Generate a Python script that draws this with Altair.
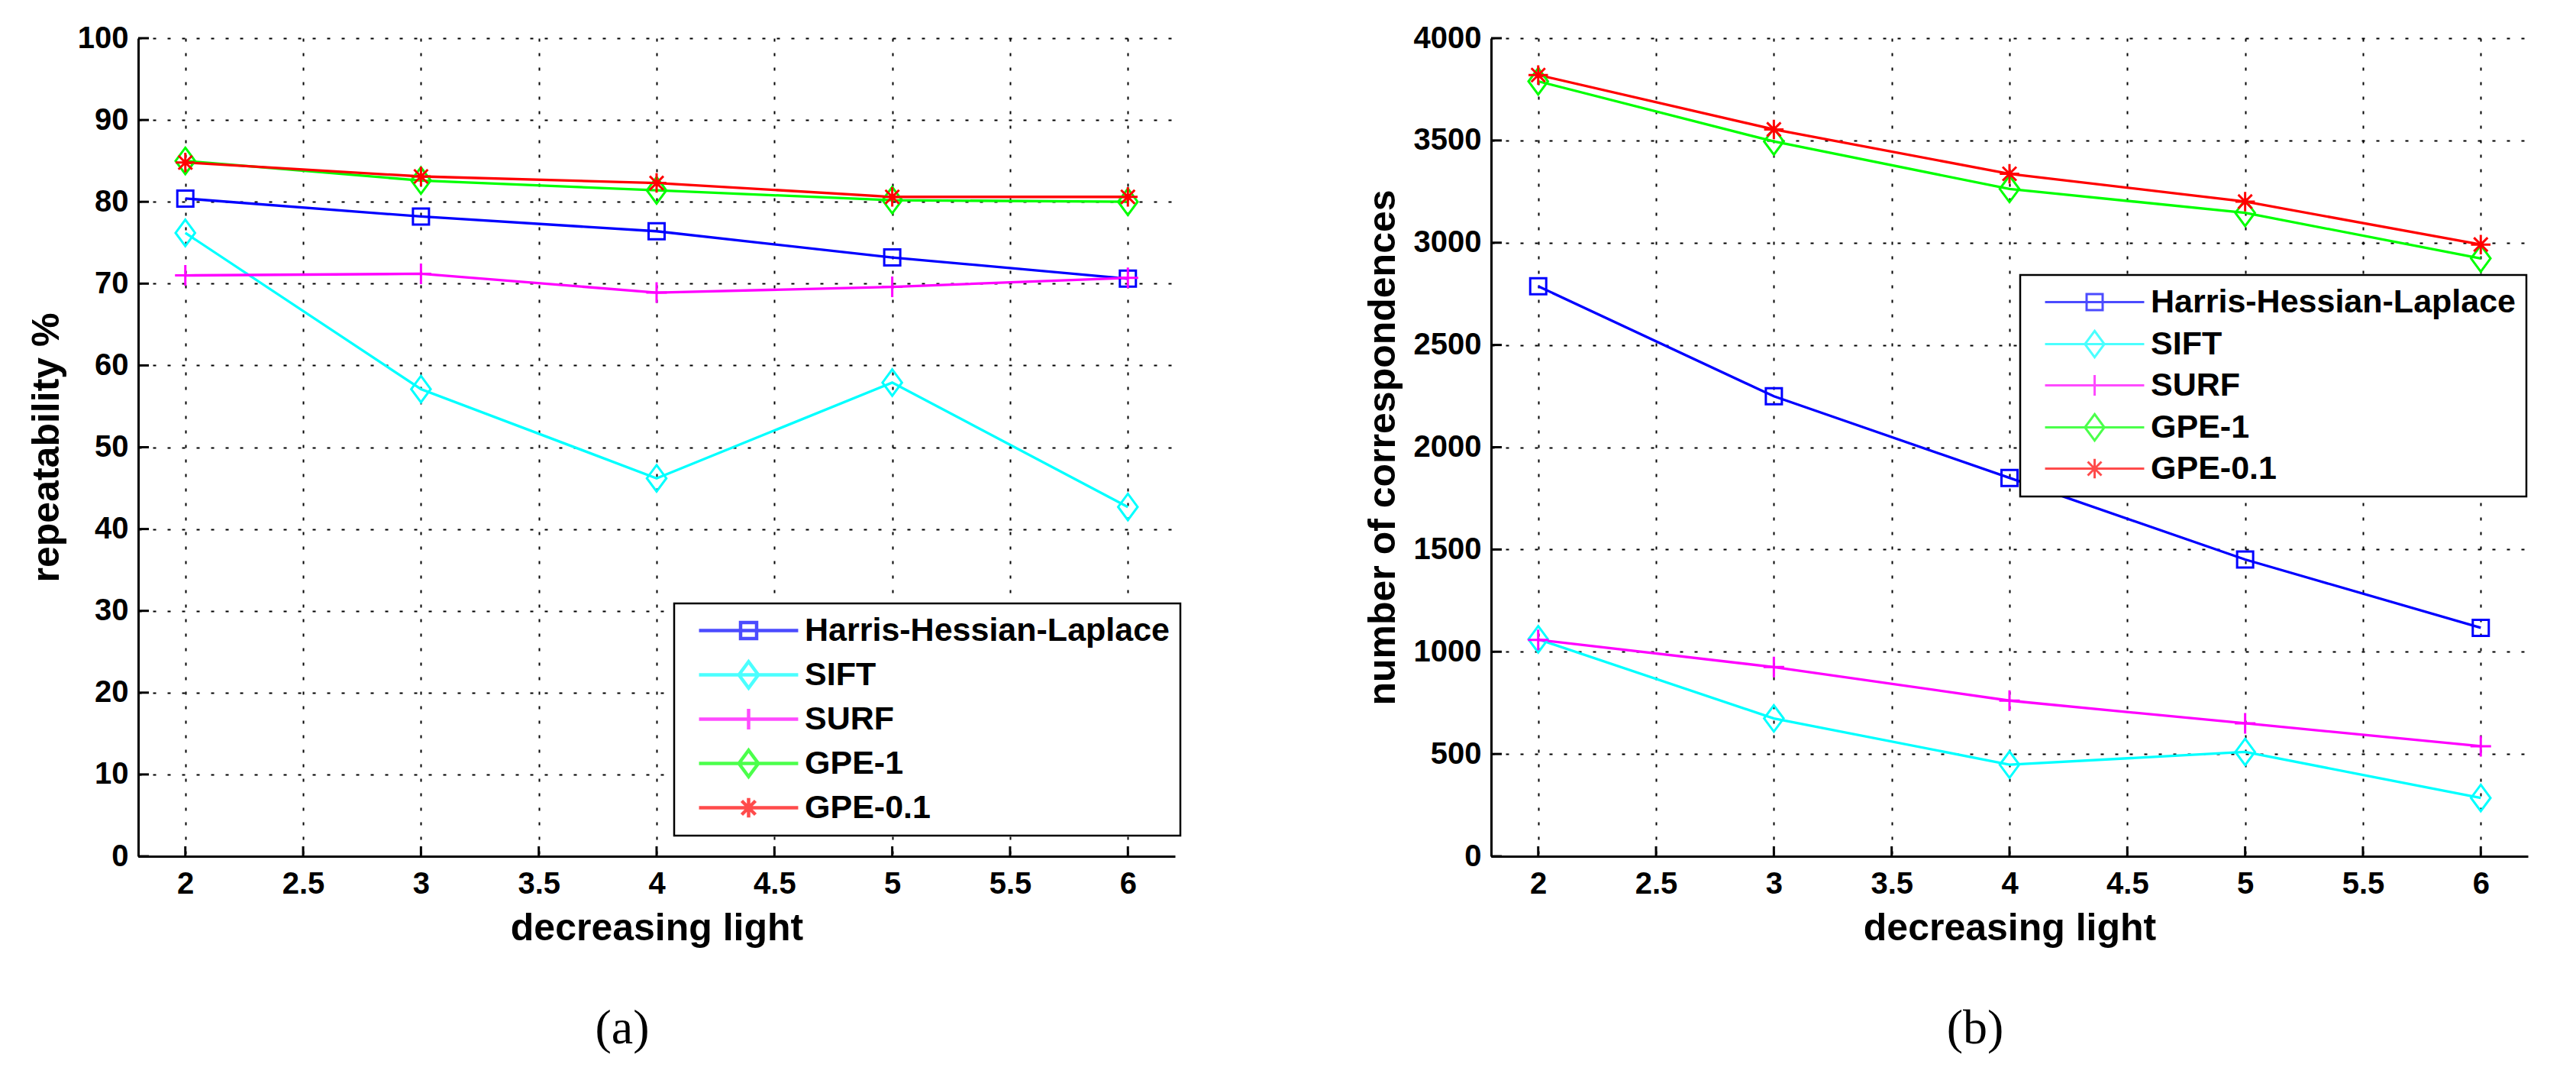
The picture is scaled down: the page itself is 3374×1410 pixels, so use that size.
import altair as alt
import pandas as pd

SERIES = ["Harris-Hessian-Laplace", "SIFT", "SURF", "GPE-1", "GPE-0.1"]
COLORS = ["#0000ff", "#00ffff", "#ff00ff", "#00ff00", "#ff0000"]
LIGHT = [2, 3, 4, 5, 6]
X_TICKS = [2, 2.5, 3, 3.5, 4, 4.5, 5, 5.5, 6]

# (a) repeatability %
REP_HARRIS = [80.4, 78.2, 76.4, 73.2, 70.6]
REP_SIFT = [76.2, 57.1, 46.2, 57.9, 42.7]
REP_SURF = [71.0, 71.2, 68.9, 69.6, 70.7]
REP_GPE1 = [85.0, 82.6, 81.4, 80.2, 80.0]
REP_GPE01 = [84.8, 83.1, 82.3, 80.6, 80.6]
REP_TICKS = [0, 10, 20, 30, 40, 50, 60, 70, 80, 90, 100]

# (b) number of correspondences
COR_HARRIS = [2787, 2249, 1850, 1451, 1117]
COR_SIFT = [1061, 674, 448, 510, 285]
COR_SURF = [1058, 925, 761, 650, 538]
COR_GPE1 = [3789, 3495, 3263, 3146, 2923]
COR_GPE01 = [3820, 3554, 3337, 3201, 2991]
COR_TICKS = [0, 500, 1000, 1500, 2000, 2500, 3000, 3500, 4000]

MARKERS = [
    "M-0.7,-0.7L0.7,-0.7L0.7,0.7L-0.7,0.7Z",
    "M0,-1.15L0.85,0L0,1.15L-0.85,0Z",
    "M-0.9,0L0.9,0M0,-0.9L0,0.9",
    "M0,-1.15L0.85,0L0,1.15L-0.85,0Z",
    "M-0.85,0L0.85,0M0,-0.85L0,0.85M-0.6,-0.6L0.6,0.6M-0.6,0.6L0.6,-0.6",
]
LEG_LINE = "M-4.33,0L4.33,0"
LEGEND_PATHS = [LEG_LINE + m for m in MARKERS]

FONT = "Liberation Sans, Arial, Helvetica, sans-serif"
W, H = 1358, 1071


def long_df(series_vals):
    rows = []
    for name, vals in zip(SERIES, series_vals):
        for xv, yv in zip(LIGHT, vals):
            rows.append({"light": xv, "value": yv, "series": name})
    return pd.DataFrame(rows)


def panel(df, ydom, yticks, ytitle, caption, legx, legy, leg_sw):
    xenc = alt.X("light:Q",
                 scale=alt.Scale(domain=[1.8, 6.2], nice=False, zero=False),
                 axis=alt.Axis(values=X_TICKS, format="~g", title="decreasing light",
                               labelPadding=16, titlePadding=13))
    yenc = alt.Y("value:Q",
                 scale=alt.Scale(domain=ydom, nice=False, zero=False),
                 axis=alt.Axis(values=yticks, format="d", title=ytitle, labelPadding=13,
                               titlePadding=15))
    stroke = alt.Stroke("series:N", scale=alt.Scale(domain=SERIES, range=COLORS), legend=None)

    lines = alt.Chart(df).mark_line(strokeWidth=3.3).encode(x=xenc, y=yenc, stroke=stroke)
    points = alt.Chart(df).mark_point(filled=False, size=900, strokeWidth=3, opacity=1).encode(
        x=xenc, y=yenc, stroke=stroke,
        shape=alt.Shape("series:N", scale=alt.Scale(domain=SERIES, range=MARKERS), legend=None),
    )
    leg = dict(title=None, orient="none", legendX=legx, legendY=legy, direction="vertical",
               symbolSize=900, symbolStrokeWidth=leg_sw, symbolOffset=62, labelOffset=52,
               labelFont=FONT, labelFontSize=43, labelFontWeight="bold", labelColor="black",
               labelLimit=1000, padding=14, rowPadding=9, strokeColor="black",
               fillColor="white", symbolFillColor="transparent")
    legend_layer = alt.Chart(df).transform_filter("datum.value < -1e9").mark_point(
        filled=False, size=900, strokeWidth=3).encode(
        x=xenc, y=yenc,
        color=alt.Color("series:N", scale=alt.Scale(domain=SERIES, range=COLORS),
                        legend=alt.Legend(**leg)),
        shape=alt.Shape("series:N", scale=alt.Scale(domain=SERIES, range=LEGEND_PATHS),
                        legend=alt.Legend(**leg)),
    )

    tick_df_x = pd.DataFrame({"t": X_TICKS})
    tick_df_y = pd.DataFrame({"t": yticks})
    xt = alt.Chart(tick_df_x).mark_rule(color="black", strokeWidth=3).encode(
        x=alt.X("t:Q", scale=alt.Scale(domain=[1.8, 6.2], nice=False, zero=False)),
        y=alt.value(H), y2=alt.value(H - 13))
    yt = alt.Chart(tick_df_y).mark_rule(color="black", strokeWidth=3).encode(
        y=alt.Y("t:Q", scale=alt.Scale(domain=ydom, nice=False, zero=False)),
        x=alt.value(0), x2=alt.value(14))

    return alt.layer(xt, yt, lines, points, legend_layer).resolve_scale(
        shape="independent", color="independent"
    ).properties(
        width=W, height=H,
        title=alt.TitleParams(text=caption, orient="bottom", anchor="middle", frame="group",
                              dx=-45, offset=75, font="Liberation Serif, Times New Roman, serif",
                              fontSize=64, fontWeight="normal", color="black"),
    )


df_a = long_df([REP_HARRIS, REP_SIFT, REP_SURF, REP_GPE1, REP_GPE01])
df_b = long_df([COR_HARRIS, COR_SIFT, COR_SURF, COR_GPE1, COR_GPE01])

left = panel(df_a, [0, 100], REP_TICKS, "repeatability %", "(a)", 702, 740, 4.5)
right = panel(df_b, [0, 4000], COR_TICKS, "number of correspondences", "(b)", 693, 310, 3)

chart = alt.hconcat(left, right, spacing=414, bounds="flush").properties(
    padding={"left": 28, "top": 22, "right": 5, "bottom": 5},
    background="white",
).configure_view(stroke=None).configure_axis(
    labelFont=FONT, labelFontSize=40, labelFontWeight="bold", labelColor="black",
    titleFont=FONT, titleFontSize=50, titleFontWeight="bold", titleColor="black",
    domainColor="black", domainWidth=3, ticks=False, grid=True, gridColor="black",
    gridDash=[4, 15], gridWidth=2, gridOpacity=1, labelFlush=False, labelOverlap=False,
).configure_legend(strokeWidth=2.5)

chart.save("out.html", embed_options={"renderer": "svg", "actions": False})
